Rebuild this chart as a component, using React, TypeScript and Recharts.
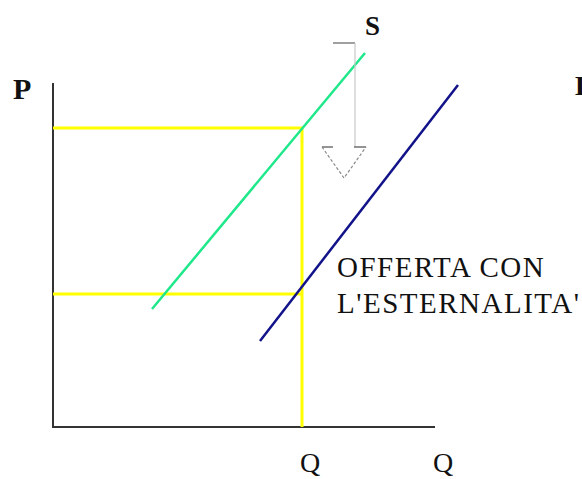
import React from "react";
import {
  ComposedChart, Line, Scatter, XAxis, YAxis,
} from "recharts";

// ── Data (chart units: 1 unit = 4px, origin at the axes corner) ──

const supplyS = [
  { x: 24.75, y: 29.5 },
  { x: 78, y: 93.5 },
];

const supplyExt = [
  { x: 51.75, y: 21.5 },
  { x: 101.25, y: 85.5 },
];

const axisP = [
  { x: 0, y: 86 },
  { x: 0, y: 0 },
  { x: 95.5, y: 0 },
];

const guideHigh = [
  { x: 0, y: 74.75 },
  { x: 62.25, y: 74.75 },
  { x: 62.25, y: 0 },
];

const guideLow = [
  { x: 0, y: 33.25 },
  { x: 62.25, y: 33.25 },
];

const arrowTop = [
  { x: 70, y: 96 },
  { x: 75.5, y: 96 },
];
const arrowShaft = [
  { x: 75.5, y: 96 },
  { x: 75.5, y: 70 },
];
const arrowHeadLeft = [
  { x: 67.25, y: 70 },
  { x: 70, y: 70 },
];
const arrowHeadRight = [
  { x: 75.25, y: 70 },
  { x: 78.25, y: 70 },
];
const arrowHeadSides = [
  { x: 67.25, y: 70 },
  { x: 72.75, y: 62.25 },
  { x: 78.25, y: 70 },
];

const labels = [
  { x: -10, y: 82, text: "P", bold: true, size: 30, spacing: 0 },
  { x: 78, y: 98, text: "S", bold: true, size: 27, spacing: 0 },
  { x: 130.5, y: 83, text: "D", bold: true, size: 28, spacing: 0 },
  { x: 61.75, y: -11.25, text: "Q", bold: false, size: 28, spacing: 0 },
  { x: 95, y: -11.25, text: "Q", bold: false, size: 28, spacing: 0 },
  { x: 71, y: 37.5, text: "OFFERTA CON", bold: false, size: 29, spacing: 1.5 },
  { x: 71, y: 28.5, text: "L'ESTERNALITA'", bold: false, size: 29, spacing: 1.5 },
];

// ── Colors ─────────────────────────────────────────────────

const GREEN = "#1EE88A";
const NAVY = "#12128A";
const YELLOW = "#FFFF00";
const AXIS = "#333333";

if (typeof document !== "undefined") document.body.style.margin = "0";

function LabelShape(props: any) {
  const { cx, cy, payload } = props;
  return (
    <text
      x={cx}
      y={cy}
      fontFamily="'Liberation Serif', 'Times New Roman', serif"
      fontSize={payload.size}
      fontWeight={payload.bold ? 700 : 400}
      letterSpacing={payload.spacing}
      fill="#111"
    >
      {payload.text}
    </text>
  );
}

export default function App() {
  const line = (data: any[], color: string, width: number, key: string, dash?: string) => (
    <Line
      key={key}
      data={data}
      dataKey="y"
      stroke={color}
      strokeWidth={width}
      strokeDasharray={dash}
      dot={false}
      activeDot={false}
      type="linear"
      isAnimationActive={false}
    />
  );

  return (
    <div style={{ width: 582, height: 479, background: "#fff" }}>
      <ComposedChart width={582} height={479} margin={{ top: 0, right: 0, bottom: 0, left: 0 }}>
        <XAxis dataKey="x" type="number" domain={[-13.25, 132.25]} hide allowDataOverflow />
        <YAxis dataKey="y" type="number" domain={[-13, 106.75]} hide allowDataOverflow />
        {line(axisP, AXIS, 2, "axis")}
        {line(guideHigh, YELLOW, 3, "gh")}
        {line(guideLow, YELLOW, 3, "gl")}
        {line(supplyS, GREEN, 2.5, "s")}
        {line(supplyExt, NAVY, 2.5, "se")}
        {line(arrowTop, "#808080", 1.5, "at")}
        {line(arrowShaft, "#C8C8C8", 1.2, "as")}
        {line(arrowHeadLeft, "#707070", 1.5, "ahl")}
        {line(arrowHeadRight, "#707070", 1.5, "ahr")}
        {line(arrowHeadSides, "#8A8A8A", 1.2, "ahs", "3 2")}
        <Scatter data={labels} dataKey="y" shape={LabelShape} isAnimationActive={false} />
      </ComposedChart>
    </div>
  );
}
